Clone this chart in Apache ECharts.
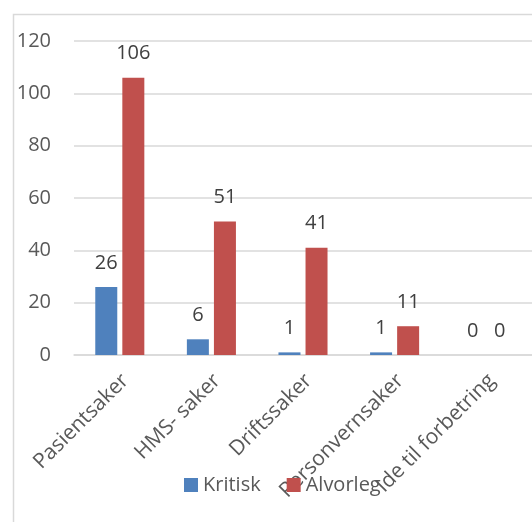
<!DOCTYPE html>
<html lang="nb">
<head>
<meta charset="utf-8">
<title>Saker</title>
<script src="https://cdn.jsdelivr.net/npm/echarts@6/dist/echarts.min.js"></script>
<style>
  html, body { margin: 0; padding: 0; background: #fff; }
  #chart { width: 532px; height: 522px; }
</style>
</head>
<body>
<div id="chart"></div>
<script type="text/javascript">
// data
var categories = ['Pasientsaker', 'HMS- saker', 'Driftssaker', 'Personvernsaker', 'Ide til forbetring'];
var kritisk = [26, 6, 1, 1, 0];
var alvorleg = [106, 51, 41, 11, 0];
var yTicks = { min: 0, max: 120, interval: 20 };

var font = 'Open Sans';
var textColor = '#595959';

var myChart = echarts.init(document.getElementById('chart'));
var option = {
    animation: false,
    textStyle: { fontFamily: font },
    graphic: [{
        type: 'rect',
        left: 11, top: 12,
        shape: { width: 600, height: 600 },
        style: { fill: 'none', stroke: '#d9d9d9', lineWidth: 1.5 },
        z: 0
    }],
    grid: { left: 74, top: 41, width: 473, height: 314, containLabel: false },
    legend: {
        left: 184, top: 475, padding: 0,
        icon: 'rect', itemWidth: 14, itemHeight: 14, itemGap: 26,
        textStyle: { fontFamily: font, fontSize: 20, color: textColor },
        data: ['Kritisk', 'Alvorleg']
    },
    xAxis: {
        type: 'category',
        data: categories,
        axisLine: { lineStyle: { color: '#d9d9d9', width: 1.5 } },
        axisTick: { show: false },
        axisLabel: { rotate: 45, interval: 0, margin: 28, padding: [0, -8, 0, 0], fontFamily: font, fontSize: 21, color: textColor }
    },
    yAxis: {
        type: 'value',
        min: yTicks.min, max: yTicks.max, interval: yTicks.interval,
        axisLine: { show: false },
        axisTick: { show: false },
        splitLine: { lineStyle: { color: '#d9d9d9', width: 1.5 } },
        axisLabel: { margin: 23, fontFamily: font, fontSize: 20, color: textColor }
    },
    series: [{
        name: 'Kritisk',
        type: 'bar',
        data: kritisk,
        barWidth: 22,
        barGap: '23%',
        itemStyle: { color: '#4f81bd' },
        label: { show: true, position: 'top', distance: 14, fontFamily: font, fontSize: 20, color: '#404040' }
    }, {
        name: 'Alvorleg',
        type: 'bar',
        data: alvorleg,
        barWidth: 22,
        itemStyle: { color: '#c0504d' },
        label: { show: true, position: 'top', distance: 14, fontFamily: font, fontSize: 20, color: '#404040' }
    }]
};
myChart.setOption(option);
</script>
</body>
</html>
